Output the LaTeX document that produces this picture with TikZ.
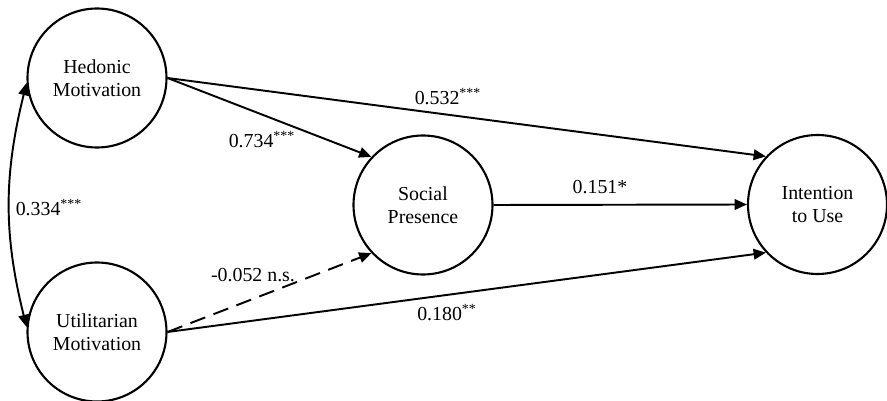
\documentclass[tikz,border=0pt]{standalone}
\usepackage{fontspec}
\setmainfont{Liberation Serif}
\usetikzlibrary{arrows.meta, positioning, calc}

\begin{document}
\begin{tikzpicture}[
    construct/.style={circle, draw, line width=1.2pt, minimum size=2.78cm, inner sep=0pt, align=center, font=\fontsize{11.3}{13}\selectfont},
    effect/.style={-{Triangle[length=7pt, width=6pt]}, line width=1.1pt},
    corr/.style={{Triangle[length=7pt, width=6pt]}-{Triangle[length=7pt, width=6pt]}, line width=1.1pt},
    coef/.style={font=\fontsize{11.3}{13}\selectfont, inner sep=1pt}
]
    \useasboundingbox (0,0) rectangle (17.74,8.02);

    % Constructs
    \node[construct] (hed) at (1.94,6.46) {Hedonic\\Motivation};
    \node[construct] (util) at (1.94,1.38) {Utilitarian\\Motivation};
    \node[construct] (soc) at (8.46,3.92) {Social\\Presence};
    \node[construct] (int) at (16.35,3.93) {Intention\\to Use};

    % Paths
    \draw[effect] (hed.east) -- (int.137);
    \draw[effect] (hed.east) -- (soc.137);
    \draw[effect] (soc.east) -- (int.west);
    \draw[effect, dashed, dash pattern=on 9pt off 5pt] (util.east) -- (soc.223);
    \draw[effect] (util.east) -- (int.223);
    \draw[corr] (hed.184) to[bend right=14] (util.176);

    % Coefficients
    \node[coef] (c1) at (8.96,6.08) {0.532\textsuperscript{***}};
    \node[coef] (c2) at (5.24,5.22) {0.734\textsuperscript{***}};
    \node[coef] (c3) at (12.0,4.28) {0.151*};
    \node[coef] (c4) at (5.06,2.52) {-0.052 n.s.};
    \node[coef] (c5) at (8.94,1.76) {0.180\textsuperscript{**}};
    \node[coef] (c6) at (0.98,3.86) {0.334\textsuperscript{***}};

\end{tikzpicture}
\end{document}
